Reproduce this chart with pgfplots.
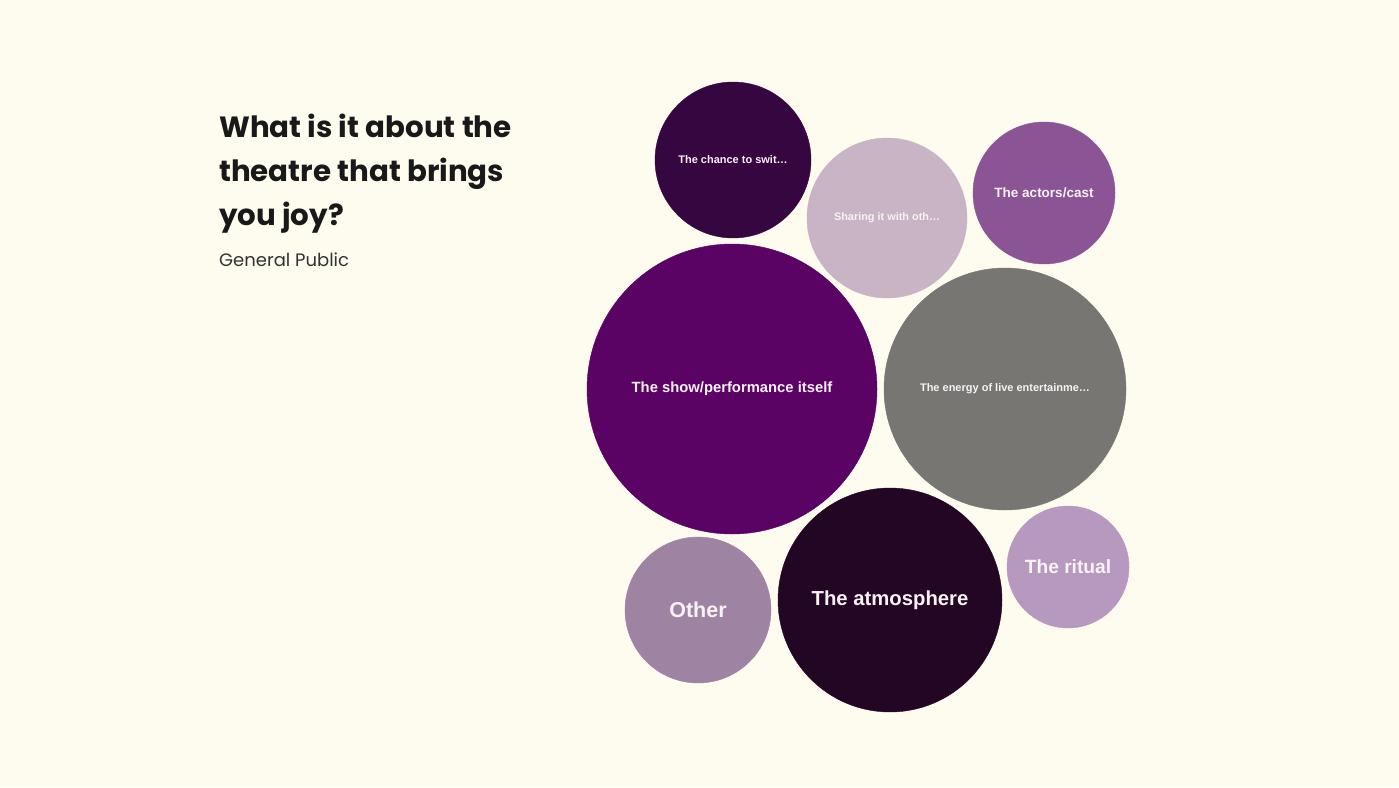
\documentclass[border=0pt]{standalone}
\usepackage{fontspec}
\usepackage{pgfplots}
\pgfplotsset{compat=1.18}
\setmainfont{Liberation Sans}
\newfontfamily\titlefont{Poppins}
\definecolor{bg}{HTML}{FEFBEF}
\definecolor{cChance}{HTML}{360640}
\definecolor{cShare}{HTML}{C8B4C4}
\definecolor{cActors}{HTML}{8B5595}
\definecolor{cShow}{HTML}{5A0364}
\definecolor{cEnergy}{HTML}{777672}
\definecolor{cOther}{HTML}{9E83A2}
\definecolor{cAtmo}{HTML}{230624}
\definecolor{cRitual}{HTML}{B799BF}
\definecolor{lbl}{HTML}{F8F2F4}

% x, y (pixels, y down), radius, colour, font size, label
\newcommand\bubble[6]{%
  \addplot[only marks, mark=*, mark size=#3, color=#4,
    mark options={draw=none, fill=#4},
    nodes near coords={#6}, nodes near coords align=center,
    every node near coord/.style={anchor=center, text=lbl,
      font=\fontsize{#5}{#5}\selectfont\bfseries}]
    coordinates {(#1,#2)};}

\begin{document}
\begin{tikzpicture}
\fill[bg] (0,0) rectangle (1399pt,787pt);
\begin{axis}[
    at={(0,0)}, anchor=south west,
    scale only axis,
    width=1399pt, height=787pt,
    xmin=0, xmax=1399,
    ymin=0, ymax=787, y dir=reverse,
    hide axis,
    clip=false,
]
\bubble{733}{160}{78}{cChance}{11}{The chance to swit\ldots}
\bubble{887}{218}{80}{cShare}{10.9}{Sharing it with oth\ldots}
\bubble{1044}{193}{71}{cActors}{13.5}{The actors/cast}
\bubble{732}{389}{145}{cShow}{14.8}{The show/performance itself}
\bubble{1005}{389}{121}{cEnergy}{11}{The energy of live entertainme\ldots}
\bubble{698}{610}{73}{cOther}{21.5}{Other}
\bubble{890}{600}{112}{cAtmo}{20.3}{The atmosphere}
\bubble{1068}{567}{61}{cRitual}{19.2}{The ritual}

\node[anchor=base west, align=left, inner sep=0pt,
      font=\titlefont\fontsize{29.3}{44}\selectfont\bfseries, text=black!90]
  at (axis cs:219,225) {What is it about the\\theatre that brings\\you joy?};
\node[anchor=west, inner sep=0pt,
      font=\titlefont\fontsize{18}{22}\selectfont, text=black!80]
  at (axis cs:219,260) {General Public};
\end{axis}
\end{tikzpicture}
\end{document}
